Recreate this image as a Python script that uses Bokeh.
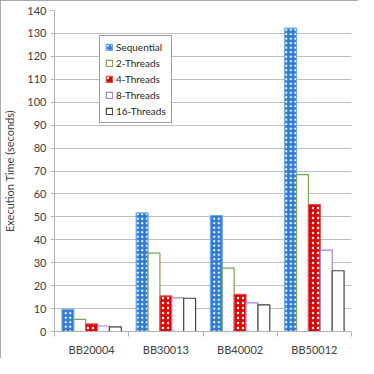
import numpy as np
from bokeh.plotting import figure
from bokeh.models import ColumnDataSource, FixedTicker, Range1d, Legend
from bokeh.transform import dodge
from bokeh.embed import file_html
from bokeh.resources import INLINE

categories = ["BB20004", "BB30013", "BB40002", "BB50012"]
sequential = [9.7, 51.7, 50.6, 132.3]
threads2 = [5.3, 34.2, 27.6, 68.4]
threads4 = [3.3, 15.5, 16.2, 55.4]
threads8 = [2.4, 14.7, 12.5, 35.5]
threads16 = [2.0, 14.5, 11.6, 26.5]
y_ticks = list(range(0, 141, 10))

xpos = np.arange(len(categories)) + 0.5
src = ColumnDataSource(dict(x=xpos, s=sequential, t2=threads2, t4=threads4,
                            t8=threads8, t16=threads16))

FONT = "Lato"
p = figure(width=358, height=358, output_backend="svg", toolbar_location=None,
           x_range=Range1d(0, len(categories)), y_range=Range1d(0, 140),
           min_border_left=52, min_border_right=7, min_border_top=10,
           min_border_bottom=27)
p.styles = {"outline": "1px solid #8c8c8c", "outline-offset": "-1px"}
p.outline_line_color = None

bw = 0.16
series = [
    ("s", "Sequential", dict(fill_color="#2e7bd6", line_color="#6fa8e8",
                             hatch_pattern="dot", hatch_color="white",
                             hatch_scale=4.5, hatch_weight=2.5)),
    ("t2", "2-Threads", dict(fill_color="white", line_color="#77a653")),
    ("t4", "4-Threads", dict(fill_color="#e00000", line_color="#e05050",
                             hatch_pattern="dot", hatch_color="white",
                             hatch_scale=5, hatch_weight=3)),
    ("t8", "8-Threads", dict(fill_color="white", line_color="#a47fd6")),
    ("t16", "16-Threads", dict(fill_color="white", line_color="#404040")),
]
items = []
for i, (col, label, style) in enumerate(series):
    off = (i - 2) * bw
    r = p.vbar(x=dodge("x", off), top=col, width=bw, bottom=0, source=src,
               line_width=1.2, **style)
    items.append((label, [r]))

legend = Legend(items=items, location=(45, 208))
legend.label_text_font = FONT
legend.label_text_font_size = "10px"
legend.label_text_color = "#262626"
legend.glyph_width = 8
legend.glyph_height = 8
legend.label_height = 12
legend.label_standoff = 3
legend.spacing = 4
legend.padding = 5
legend.margin = 0
legend.border_line_color = "#404040"
legend.border_line_width = 1
legend.background_fill_alpha = 1
p.add_layout(legend, "center")

# y axis
p.yaxis.ticker = FixedTicker(ticks=y_ticks)
p.yaxis.axis_label = "Execution Time (seconds)"
p.yaxis.axis_label_text_font = FONT
p.yaxis.axis_label_text_font_style = "normal"
p.yaxis.axis_label_text_font_size = "11px"
p.yaxis.axis_label_text_color = "#404040"
p.yaxis.axis_label_standoff = 8
p.yaxis.major_label_text_font = FONT
p.yaxis.major_label_text_font_size = "11px"
p.yaxis.major_label_text_color = "#404040"
p.yaxis.major_label_standoff = 4
p.yaxis.axis_line_color = "#b3b3b3"
p.yaxis.major_tick_line_color = "#b3b3b3"
p.yaxis.major_tick_in = 0
p.yaxis.major_tick_out = 4
p.yaxis.minor_tick_line_color = None

# x axis: labels at centres, ticks at boundaries
p.xaxis.ticker = FixedTicker(ticks=list(xpos),
                             minor_ticks=list(np.arange(len(categories) + 1)))
p.xaxis.major_label_overrides = {float(x): c for x, c in zip(xpos, categories)}
p.xaxis.major_label_text_font = FONT
p.xaxis.major_label_text_font_size = "11px"
p.xaxis.major_label_text_color = "#404040"
p.xaxis.major_label_standoff = 6
p.xaxis.major_tick_in = 0
p.xaxis.major_tick_out = 0
p.xaxis.minor_tick_in = 0
p.xaxis.minor_tick_out = 5
p.xaxis.minor_tick_line_color = "#b3b3b3"
p.xaxis.axis_line_color = "#b3b3b3"

p.xgrid.grid_line_color = None
p.ygrid.grid_line_color = "#bfbfbf"
p.ygrid.grid_line_width = 1.2

open("out.html", "w").write(file_html(p, INLINE))
